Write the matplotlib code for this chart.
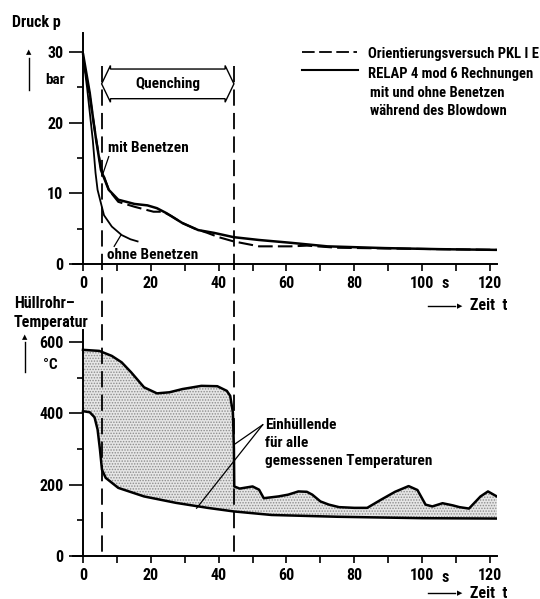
import matplotlib
matplotlib.use('Agg')
import numpy as np
import matplotlib.pyplot as plt
from matplotlib import font_manager
from matplotlib.lines import Line2D
from matplotlib.patches import Polygon
import matplotlib.transforms as mtransforms

# Druckverlauf (bar) ueber Zeit (s)
t_mit = [0, 1, 2, 3, 3.9, 5.3, 7.6, 10.4, 15.2, 19, 21.8, 24.6, 29.3, 34, 38.7,
         44.4, 51.9, 61.3, 72, 89, 105, 122]
p_mit = [29.8, 27, 24.2, 20.5, 17.5, 13.3, 10.5, 9.1, 8.5, 8.3, 7.9, 7.2, 5.8, 4.8, 4.4,
         3.8, 3.4, 3.0, 2.5, 2.25, 2.1, 2.0]

t_ohne = [0, 1.2, 2.9, 3.7, 4.3, 5.3, 6.2, 8.5, 11.4, 14, 16.1]
p_ohne = [29.5, 25, 17.5, 12.9, 10.5, 8.6, 6.9, 5.3, 4.1, 3.5, 3.2]

t_vers = [0, 1, 2, 3, 4, 5.3, 7.6, 10.4, 15.2, 20.8, 23.6, 26, 29.3, 33, 36.7, 40,
          44.4, 51.9, 56, 61.3, 66, 75, 90, 105, 122]
p_vers = [29.0, 26.5, 23.8, 20.5, 17.3, 13.6, 10.5, 8.8, 8.1, 7.4, 7.4, 6.8, 5.8, 5.0, 4.4, 3.8,
          3.2, 2.5, 2.5, 2.5, 2.6, 2.3, 2.2, 2.1, 2.0]

# Huellrohrtemperatur (degC), Einhuellende oben / unten
t_oben = [0, 4.8, 8.5, 11.4, 14.2, 18, 21.8, 25.5, 29.3, 34.9, 39.6, 42.4, 43.4, 44.2,
          44.5, 44.6, 46.2, 50, 51.9, 53.3, 57.6, 60.5, 63.5, 66, 67.6, 70, 72.5, 75.5,
          80, 83.8, 87.9, 92, 96, 98.6, 101, 103, 106, 109, 111, 113.8, 117.2, 119.4, 122]
T_oben = [578, 575, 561, 543, 515, 473, 456, 459, 468, 477, 476, 463, 449, 402,
          300, 195, 189, 195, 186, 162, 167, 172, 181, 180, 172, 153, 144, 137,
          135, 135, 158, 180, 196, 185, 144, 139, 148, 142, 137, 133, 167, 181, 167]

t_unten = [0, 2, 3.4, 4.3, 5, 5.6, 6.7, 10.4, 18, 27.4, 36.7, 44.4, 55.6, 75, 100, 122]
T_unten = [406, 403, 389, 355, 299, 242, 219, 191, 167, 149, 135, 125, 115, 110, 106, 105]

quench = [5.5, 44.5]

xticks = [0, 20, 40, 60, 80, 100, 120]
xlabels = ['0', '20', '40', '60', '80', '100', '120']

# schmale Schrift suchen
fonts = font_manager.fontManager.ttflist
names = {f.name for f in fonts}
stretch = 'normal'
if 'Liberation Sans Narrow' in names:
    fam = 'Liberation Sans Narrow'
elif 'Roboto Condensed' in names:
    fam = 'Roboto Condensed'
elif any(f.name == 'DejaVu Sans' and f.stretch == 'condensed' for f in fonts):
    fam = 'DejaVu Sans'
    stretch = 'condensed'
else:
    fam = 'Roboto'
plt.rcParams['font.family'] = [fam, 'DejaVu Sans']
plt.rcParams['font.stretch'] = stretch
plt.rcParams['font.weight'] = 'bold'
plt.rcParams['font.size'] = 10
plt.rcParams['hatch.linewidth'] = 0.7

W, H = 540, 599
fig = plt.figure(figsize=(W / 100, H / 100), dpi=100)


def fx(px):
    return px / W


def fy(py):
    return 1 - py / H


ax1 = fig.add_axes([fx(72.8), fy(264), 424 / W, 231 / H])
ax2 = fig.add_axes([fx(72.8), fy(556), 424 / W, 226.5 / H])

for ax in (ax1, ax2):
    ax.set_xlim(-3, 122)
    ax.spines['top'].set_visible(False)
    ax.spines['right'].set_visible(False)
    ax.spines['left'].set_position(('data', 0))
    ax.spines['left'].set_linewidth(1.4)
    ax.spines['bottom'].set_linewidth(1.4)
    ax.set_xticks(xticks)
    ax.set_xticklabels(xlabels)
    ax.set_xticks(range(10, 121, 20), minor=True)
    ax.tick_params(axis='x', which='both', direction='out', length=5, width=1.2, pad=4,
                   labelsize=11.5)
    ax.tick_params(axis='y', which='major', direction='out', length=10, width=1.2, pad=4,
                   labelsize=11.5)
    ax.tick_params(axis='y', which='minor', direction='out', length=4, width=1.2)

ax1.set_ylim(0, 32.7)
ax1.set_yticks([0, 10, 20, 30])
ax1.set_yticks([5, 15, 25], minor=True)
ax2.set_ylim(0, 635)
ax2.set_yticks([0, 200, 400, 600])
ax2.set_yticks([100, 300, 500], minor=True)

# Druck
ax1.plot(t_mit, p_mit, color='black', lw=1.8, solid_capstyle='round')
ax1.plot(t_ohne, p_ohne, color='black', lw=1.3)
ax1.plot(t_vers, p_vers, color='black', lw=1.5, dashes=(7, 2.5))

ax1.text(7.4, 16.4, 'mit Benetzen', ha='left', va='center', fontsize=11)
ax1.plot([7.6, 5.6], [15.2, 12.4], color='black', lw=0.9)
ax1.text(7.0, 1.25, 'ohne Benetzen', ha='left', va='center', fontsize=11)
ax1.plot([11.2, 9.2], [4.1, 2.5], color='black', lw=0.9)

# Quenching-Doppelpfeil
yc, hs, hh, hl = 25.5, 2.1, 2.6, 2.6
q0, q1 = quench
pts = [(q0, yc), (q0 + hl, yc + hh), (q0 + hl, yc + hs), (q1 - hl, yc + hs),
       (q1 - hl, yc + hh), (q1, yc), (q1 - hl, yc - hh), (q1 - hl, yc - hs),
       (q0 + hl, yc - hs), (q0 + hl, yc - hh)]
ax1.add_patch(Polygon(pts, closed=True, fc='white', ec='black', lw=1.0, zorder=4))
ax1.text((q0 + q1) / 2, yc, 'Quenching', ha='center', va='center', fontsize=11, zorder=5)

# Temperatur: punktierte Flaeche zwischen den Einhuellenden
poly_t = np.r_[t_oben, t_unten[::-1]]
poly_T = np.r_[T_oben, T_unten[::-1]]
ax2.fill(poly_t, poly_T, facecolor='#e6e6e6', edgecolor='none', zorder=1)
ax2.fill(poly_t, poly_T, facecolor='none', edgecolor='#8c8c8c', lw=0, hatch='......',
         zorder=2)
ax2.plot(t_oben, T_oben, color='black', lw=1.8, zorder=3)
ax2.plot(t_unten, T_unten, color='black', lw=1.8, zorder=3)

ax2.text(53.8, 317, 'Einhüllende\nfür alle\ngemessenen Temperaturen', ha='left',
         va='center', fontsize=11, linespacing=1.4)
ax2.plot([53.0, 44.5], [368, 312], color='black', lw=0.9)
ax2.plot([53.0, 33.5], [368, 134], color='black', lw=0.9)

# gestrichelte Linien Quenchbeginn / -ende ueber beide Diagramme
trans = mtransforms.blended_transform_factory(ax1.transData, fig.transFigure)
for q in quench:
    fig.add_artist(Line2D([q, q], [fy(66), fy(556)], transform=trans, color='black',
                          lw=1.3, dashes=(9, 4)))

# Einheit s zwischen 100 und 120
for ypx in (284, 577):
    fig.text(fx(445), fy(ypx), 's', ha='center', va='center', fontsize=11.5)

# Achsenbeschriftungen
fig.text(fx(12), fy(22), 'Druck p', ha='left', va='center', fontsize=11.5)
fig.add_artist(Line2D([fx(29), fx(29)], [fy(90), fy(58)], color='black', lw=1.0))
fig.text(fx(29), fy(52), '▲', ha='center', va='center', fontsize=5)
fig.text(fx(45), fy(80), 'bar', ha='left', va='center', fontsize=11)

fig.text(fx(14), fy(303), 'Hüllrohr–', ha='left', va='center', fontsize=11.5)
fig.text(fx(14), fy(322), 'Temperatur', ha='left', va='center', fontsize=11.5)
fig.add_artist(Line2D([fx(25), fx(25)], [fy(372), fy(342)], color='black', lw=1.0))
fig.text(fx(25), fy(337), '▲', ha='center', va='center', fontsize=5)
fig.text(fx(43), fy(365), '°C', ha='left', va='center', fontsize=11)

for ypx in (306, 593):
    fig.add_artist(Line2D([fx(428), fx(455)], [fy(ypx), fy(ypx)], color='black', lw=1.0))
    fig.text(fx(460), fy(ypx), '▶', ha='center', va='center', fontsize=5)
    fig.text(fx(470), fy(ypx), 'Zeit  t', ha='left', va='center', fontsize=11.5)

# Legende
fig.add_artist(Line2D([fx(302), fx(357)], [fy(52), fy(52)], color='black', lw=1.3,
                      dashes=(7, 2.5)))
fig.add_artist(Line2D([fx(302), fx(358)], [fy(70), fy(70)], color='black', lw=1.5))
fig.text(fx(368), fy(54), 'Orientierungsversuch PKL I E', ha='left', va='center', fontsize=10.5)
fig.text(fx(368), fy(74), 'RELAP 4 mod 6 Rechnungen', ha='left', va='center', fontsize=10.5)
fig.text(fx(370), fy(93), 'mit und ohne Benetzen', ha='left', va='center', fontsize=10.5)
fig.text(fx(370), fy(111), 'während des Blowdown', ha='left', va='center', fontsize=10.5)

fig.savefig('out.png', dpi=100)
